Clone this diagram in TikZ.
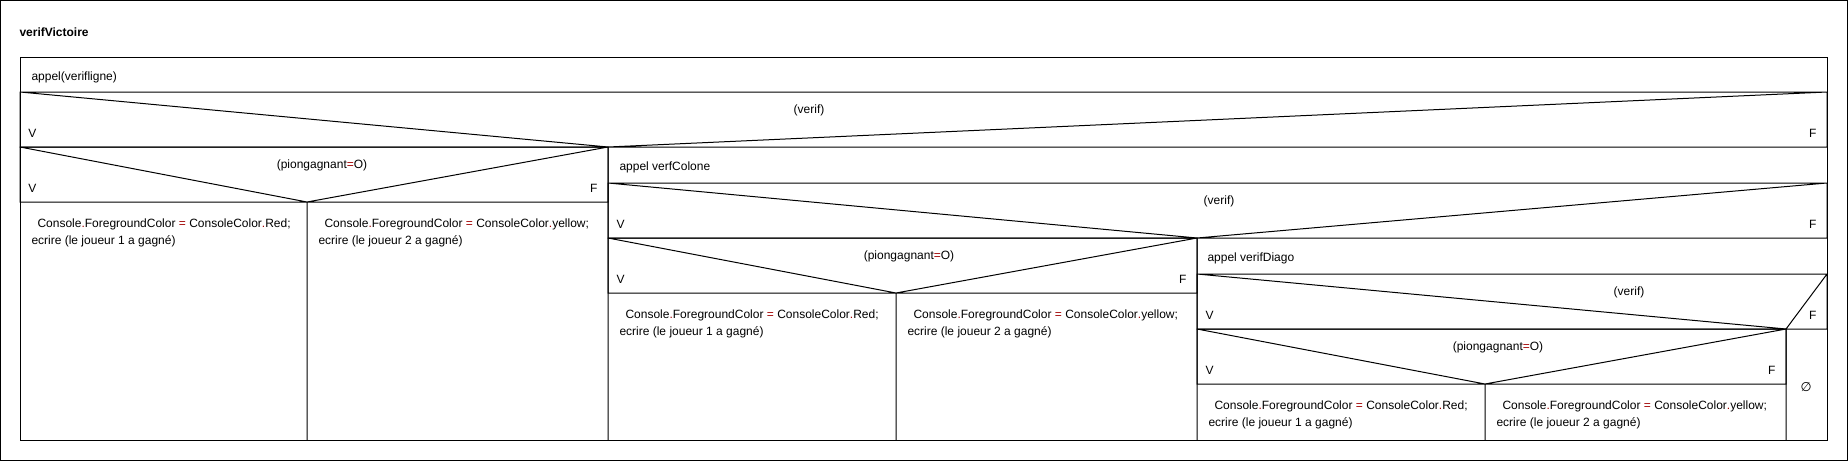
\documentclass[tikz,border=0pt]{standalone}
\usepackage{fontspec}
\setmainfont{Liberation Sans}
\newfontfamily\symbfont{DejaVu Sans}
\definecolor{opred}{RGB}{160,0,0}
\newcommand{\rdot}{\textcolor{opred}{.}}
\newcommand{\req}{\textcolor{opred}{=}}

\begin{document}
\begin{tikzpicture}[x=0.75pt, y=-0.75pt, line width=0.75pt,
  lbl/.style={inner sep=0pt, text height=6.45pt, text depth=0pt, font=\fontsize{9}{12}\selectfont}]

\useasboundingbox (0,0) rectangle (1848,461);
\draw (0.5,0.5) rectangle (1847.5,460.5);

\node[lbl, anchor=west, font=\fontsize{9}{12}\selectfont\bfseries] (titre) at (19,32) {verifVictoire};
\draw (20,57) rectangle (1827,440);

% appels
\foreach \x/\y/\txt [count=\i] in {31/76/appel(verifligne), 619/166/appel verfColone, 1207/257/appel verifDiago}
	\node[lbl, anchor=west] (appel\i) at (\x,\y) {\txt};

% conditions
\foreach \l/\a/\r/\t/\b/\c/\txt [count=\i] in {
	20/608/1827/92/147/809/(verif),
	20/307/608/147/202/322/(piongagnant\req O),
	608/1197/1827/183/238/1219/(verif),
	608/896/1197/238/293/909/(piongagnant\req O),
	1197/1786/1827/274/329/1629/(verif),
	1197/1485/1786/329/384/1498/(piongagnant\req O)}
{
	\draw (\l,\t) rectangle (\r,\b) (\l,\t) -- (\a,\b) -- (\r,\t) (\a,\b) -- (\a,440);
	\node[lbl] (cond\i) at (\c,\t+17) {\txt};
	\node[lbl, anchor=west] (vrai\i) at (\l+8,\b-13.5) {V};
	\node[lbl, anchor=east] (faux\i) at (\r-10,\b-13.5) {F};
}

% affectations
\foreach \l/\b/\j/\col [count=\i] in {20/202/1/Red, 307/202/2/yellow, 608/293/1/Red,
		896/293/2/yellow, 1197/384/1/Red, 1485/384/2/yellow}
{
	\node[lbl, anchor=west] (couleur\i) at (\l+17,\b+21.5) {Console\rdot ForegroundColor \req{} ConsoleColor\rdot\col;};
	\node[lbl, anchor=west] (ecrire\i) at (\l+11,\b+38) {ecrire (le joueur \j{} a gagné)};
}

\node[lbl, font=\symbfont\fontsize{9.5}{11}\selectfont] (vide) at (1806,387) {∅};
\end{tikzpicture}
\end{document}
